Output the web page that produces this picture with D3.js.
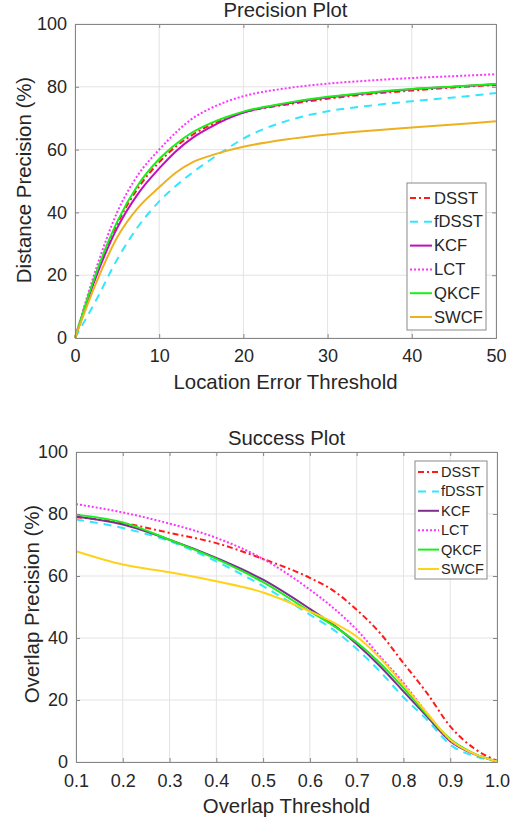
<!DOCTYPE html>
<html>
<head>
<meta charset="utf-8">
<script src="https://cdn.jsdelivr.net/npm/d3@7"></script>
<style>
  body { margin: 0; background: #fff; }
  svg text { font-family: "Liberation Sans", Arial, sans-serif; fill: #262626; }
</style>
</head>
<body>
<svg id="chart" width="514" height="820"></svg>
<script>
// ---- data ----
var trackers = ["DSST", "fDSST", "KCF", "LCT", "QKCF", "SWCF"];

// precision plot (location error threshold)
var precX = [0, 2.5, 5, 7.5, 10, 12, 14, 16, 18, 20, 25, 30, 35, 40, 45, 50];
var precDSST  = [0, 20.2, 36.3, 47.8, 56, 61, 64.8, 67.7, 70, 71.8, 74.3, 76.2, 77.7, 78.8, 79.8, 80.6];
var precFDSST = [0, 12, 25, 35.5, 43.5, 48.5, 52.8, 56.6, 60.2, 63.5, 69, 72.2, 74, 75.4, 76.6, 78];
var precKCF   = [0, 19.5, 35, 46, 54, 59.5, 63.8, 67, 69.7, 71.8, 74.6, 76.6, 78, 79.2, 80, 80.8];
var precLCT   = [0, 22, 40, 52, 60, 65.5, 70, 73, 75.3, 77, 79.5, 81, 82, 82.8, 83.4, 84];
var precQKCF  = [0, 20.6, 37, 48.8, 57, 61.8, 65.6, 68.3, 70.4, 72.1, 74.8, 76.8, 78.2, 79.3, 80.1, 80.9];
var precSWCF  = [0, 17.5, 32, 41.5, 48, 52.7, 56, 58, 59.6, 60.9, 63.2, 64.8, 66, 67, 68, 69];
var precTicksX = [0, 10, 20, 30, 40, 50];

// success plot (overlap threshold)
var succX = [0.1, 0.2, 0.3, 0.4, 0.5, 0.6, 0.65, 0.7, 0.75, 0.8, 0.85, 0.9, 0.95, 1.0];
var succDSST  = [79, 77.1, 73.9, 70.6, 65.5, 59.4, 55.3, 49.1, 41.6, 31.9, 22.3, 11.5, 4.5, 0.4];
var succFDSST = [78.2, 75.5, 71.2, 64.7, 56.7, 47.5, 42.7, 36.5, 29.2, 20.9, 13.7, 5.6, 2, 0.2];
var succKCF   = [79.2, 76.6, 71.7, 65.8, 58.8, 49.4, 44.3, 38.1, 30.9, 22.8, 14.7, 6.7, 2.6, 0.2];
var succLCT   = [83.2, 80.5, 76.9, 72.3, 65.5, 55.6, 49.7, 42.7, 34.1, 25.5, 15.8, 7, 2.7, 0.2];
var succQKCF  = [79.8, 77.3, 71.7, 65.5, 58, 48.6, 44, 38.6, 31.9, 23.9, 15.3, 7.4, 2.8, 0.2];
var succSWCF  = [68, 63.7, 61.2, 58.3, 54.7, 48.6, 45, 40.5, 33.5, 24.9, 15.8, 7.2, 2.7, 0.2];
var succTicksX = [0.1, 0.2, 0.3, 0.4, 0.5, 0.6, 0.7, 0.8, 0.9, 1.0];

var ticksY = [0, 20, 40, 60, 80, 100];

/**
 * One MATLAB-style line plot panel
 */
function LinePlot(opts){
    var self = this;
    self.opts = opts;
    self.init();
};

LinePlot.prototype.init = function(){
    var self = this;
    var o = self.opts;
    self.svg = d3.select("#chart").append("g");

    self.xScale = d3.scaleLinear().domain(o.xDomain).range([o.left, o.right]);
    self.yScale = d3.scaleLinear().domain([0, 100]).range([o.bottom, o.top]);
};

LinePlot.prototype.update = function(){
    var self = this;
    var o = self.opts;
    var svg = self.svg;
    var x = self.xScale, y = self.yScale;

    //grid lines
    svg.selectAll(".gx").data(o.ticksX).enter().append("line")
        .attr("x1", d => x(d)).attr("x2", d => x(d))
        .attr("y1", o.top).attr("y2", o.bottom)
        .attr("stroke", "#e3e3e3").attr("stroke-width", 1);
    svg.selectAll(".gy").data(ticksY).enter().append("line")
        .attr("x1", o.left).attr("x2", o.right)
        .attr("y1", d => y(d)).attr("y2", d => y(d))
        .attr("stroke", "#e3e3e3").attr("stroke-width", 1);

    //curves
    var line = d3.line()
        .x(d => x(d[0]))
        .y(d => y(d[1]))
        .curve(d3.curveMonotoneX);

    o.series.forEach(function(s){
        var pts = o.xs.map((v, i) => [v, s.values[i]]);
        svg.append("path")
            .attr("d", line(pts))
            .attr("fill", "none")
            .attr("stroke", s.color)
            .attr("stroke-width", 2)
            .attr("stroke-dasharray", s.dash);
    });

    //axes box + inward ticks on all four sides
    var tl = 4;
    var axisCol = "#868686";
    var ax = svg.append("g").attr("transform", "translate(0," + o.bottom + ")")
        .call(d3.axisBottom(x).tickValues(o.ticksX).tickSize(-tl).tickFormat(o.fmtX).tickPadding(o.padX));
    var ax2 = svg.append("g").attr("transform", "translate(0," + o.top + ")")
        .call(d3.axisTop(x).tickValues(o.ticksX).tickSize(-tl).tickFormat(""));
    var ay = svg.append("g").attr("transform", "translate(" + o.left + ",0)")
        .call(d3.axisLeft(y).tickValues(ticksY).tickSize(-tl).tickPadding(8));
    var ay2 = svg.append("g").attr("transform", "translate(" + o.right + ",0)")
        .call(d3.axisRight(y).tickValues(ticksY).tickSize(-tl).tickFormat(""));
    [ax, ax2, ay, ay2].forEach(function(g){
        g.select(".domain").attr("stroke", axisCol);
        g.selectAll(".tick line").attr("stroke", axisCol);
        g.selectAll("text").attr("font-size", "18px").attr("fill", "#262626")
            .attr("font-family", "'Liberation Sans', Arial, sans-serif");
    });

    //titles
    svg.append("text").attr("x", (o.left + o.right) / 2).attr("y", o.titleY)
        .attr("text-anchor", "middle").attr("font-size", "20.3px").text(o.title);
    svg.append("text").attr("x", (o.left + o.right) / 2).attr("y", o.xLabelY)
        .attr("text-anchor", "middle").attr("font-size", "20.4px").text(o.xLabel);
    svg.append("text")
        .attr("transform", "translate(" + o.yLabelX + "," + o.yLabelY + ") rotate(-90)")
        .attr("text-anchor", "middle").attr("dominant-baseline", "central")
        .attr("font-size", "20.4px").text(o.yLabel);

    //legend
    var L = o.legend;
    svg.append("rect").attr("x", L.x).attr("y", L.y).attr("width", L.w).attr("height", L.h)
        .attr("fill", "#fff").attr("stroke", "#8a8a8a").attr("stroke-width", 1);
    o.series.forEach(function(s, i){
        var cy = L.y + L.first + i * L.step;
        svg.append("line").attr("x1", L.x + 3).attr("x2", L.x + 3 + L.len)
            .attr("y1", cy).attr("y2", cy)
            .attr("stroke", s.color).attr("stroke-width", 2).attr("stroke-dasharray", s.dash);
        svg.append("text").attr("x", L.x + 5 + L.len).attr("y", cy)
            .attr("dominant-baseline", "central").attr("font-size", L.font).text(s.name);
    });
};

var dashes = {"DSST": "6,3,2,3", "fDSST": "8,6", "LCT": "2,2"};

var precision = new LinePlot({
    left: 75, right: 496, top: 24, bottom: 338,
    xDomain: [0, 50], xs: precX, ticksX: precTicksX, fmtX: d3.format("d"), padX: 11,
    title: "Precision Plot", titleY: 17,
    xLabel: "Location Error Threshold", xLabelY: 389,
    yLabel: "Distance Precision (%)", yLabelX: 24, yLabelY: 180,
    legend: {x: 407, y: 183, w: 79, h: 147, first: 15, step: 23.8, len: 22, font: "16.6px"},
    series: [
        {name: "DSST",  values: precDSST,  color: "#ff1a1a", dash: dashes.DSST},
        {name: "fDSST", values: precFDSST, color: "#33e6ff", dash: dashes.fDSST},
        {name: "KCF",   values: precKCF,   color: "#bf0fbf", dash: null},
        {name: "LCT",   values: precLCT,   color: "#ff33ff", dash: dashes.LCT},
        {name: "QKCF",  values: precQKCF,  color: "#1aef1a", dash: null},
        {name: "SWCF",  values: precSWCF,  color: "#edb120", dash: null}
    ]
});
precision.update();

var success = new LinePlot({
    left: 76, right: 497, top: 452, bottom: 762,
    xDomain: [0.1, 1.0], xs: succX, ticksX: succTicksX, fmtX: d3.format(".1f"), padX: 12,
    title: "Success Plot", titleY: 445,
    xLabel: "Overlap Threshold", xLabelY: 813,
    yLabel: "Overlap Precision (%)", yLabelX: 32, yLabelY: 604,
    legend: {x: 415, y: 461, w: 72, h: 118, first: 11, step: 19.4, len: 21, font: "14.6px"},
    series: [
        {name: "DSST",  values: succDSST,  color: "#ff1a1a", dash: dashes.DSST},
        {name: "fDSST", values: succFDSST, color: "#33e6ff", dash: dashes.fDSST},
        {name: "KCF",   values: succKCF,   color: "#7e2f8e", dash: null},
        {name: "LCT",   values: succLCT,   color: "#ff33ff", dash: dashes.LCT},
        {name: "QKCF",  values: succQKCF,  color: "#1aef1a", dash: null},
        {name: "SWCF",  values: succSWCF,  color: "#ffd21a", dash: null}
    ]
});
success.update();
</script>
</body>
</html>
